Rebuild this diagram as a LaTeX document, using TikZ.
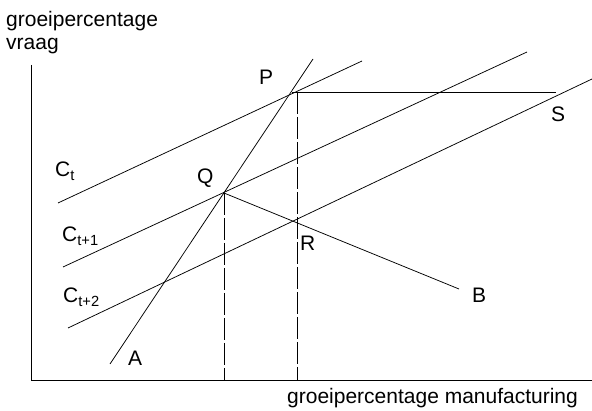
\documentclass[tikz,border=0pt]{standalone}
\usepackage{fontspec}
\setmainfont{Liberation Sans}
\begin{document}
\begin{tikzpicture}[x=1pt,y=-1pt,
  line/.style={line width=0.75pt},
  guide/.style={line width=0.6pt,dash pattern=on 22pt off 3pt},
  lbl/.style={inner sep=0pt,anchor=base west,font=\fontsize{21}{23}\selectfont}]
\useasboundingbox (0,0) rectangle (592,411);
% axes
\coordinate (O) at (31,380);
\coordinate (Ytop) at (31,65);
\coordinate (Xend) at (592,380);
\draw[line] (Ytop) -- (O) -- (Xend);
% C lines
\coordinate (ct1) at (58,203);   \coordinate (ct2) at (362,61);
\coordinate (c11) at (63,267);   \coordinate (c12) at (527,52);
\coordinate (c21) at (68,328);   \coordinate (c22) at (592,79);
\draw[line] (ct1) -- (ct2);
\draw[line] (c11) -- (c12);
\draw[line] (c21) -- (c22);
% A line
\coordinate (Aend) at (110,364);
\coordinate (Atop) at (313,59);
\draw[line] (Aend) -- (Atop);
% points
\coordinate (P) at (292,92);
\coordinate (P2) at (297,92);
\coordinate (Q) at (224,193);
\coordinate (R) at (296,222);
\coordinate (Bend) at (459,289);
\coordinate (Send) at (556,92);
\coordinate (Qfoot) at (224,380);
\coordinate (Pfoot) at (297,380);
\draw[line] (P) -- (Send);
\draw[line] (Q) -- (Bend);
\draw[guide] (Q) -- (Qfoot);
\draw[guide] (P2) -- (Pfoot);
% labels
\node[lbl] (ylab1) at (6,27) {groeipercentage};
\node[lbl] (ylab2) at (6,50) {vraag};
\node[lbl] (xlab) at (287,404) {groeipercentage manufacturing};
\node[lbl] (lCt) at (55,177) {C\textsubscript{t}};
\node[lbl] (lCt1) at (62,242) {C\textsubscript{t+1}};
\node[lbl] (lCt2) at (63,303) {C\textsubscript{t+2}};
\node[lbl] (lP) at (259,85) {P};
\node[lbl] (lQ) at (197,184) {Q};
\node[lbl] (lA) at (128,366) {A};
\node[lbl] (lR) at (300,251) {R};
\node[lbl] (lB) at (472,303) {B};
\node[lbl] (lS) at (551,122) {S};
\end{tikzpicture}
\end{document}
